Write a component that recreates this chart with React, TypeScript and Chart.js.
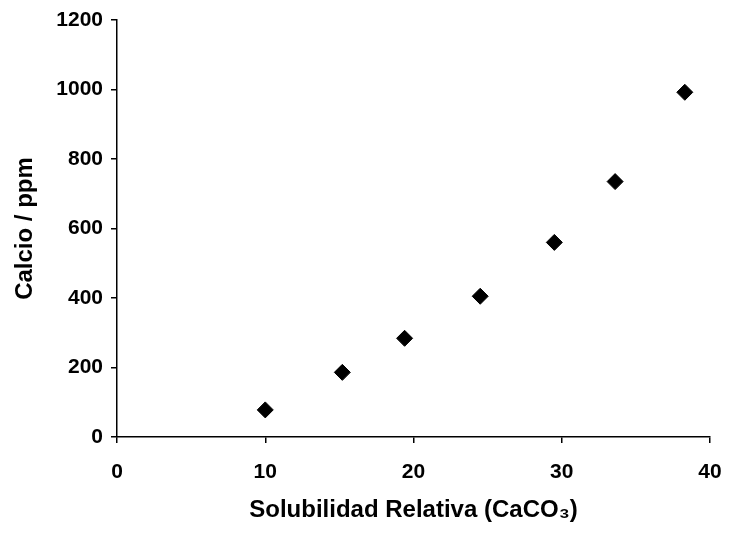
import React, { useEffect, useRef } from "react";
import { Chart, registerables } from "chart.js";

Chart.register(...registerables);

const solubility = [10, 15.2, 19.4, 24.5, 29.5, 33.6, 38.3];
const calcium = [78, 186, 284, 405, 560, 735, 992];
const xTitle = "Solubilidad Relativa (CaCO\u2083)";
const yTitle = "Calcio / ppm";

const W = 731;
const H = 536;

export default function App() {
  const ref = useRef<HTMLCanvasElement | null>(null);

  useEffect(() => {
    if (!ref.current) return;
    const family = "'Liberation Sans', Arial, sans-serif";
    const tickFont = { family, weight: "bold" as const, size: 21 };
    const titleFont = { family, weight: "bold" as const, size: 24 };
    const chart = new Chart(ref.current, {
      type: "scatter",
      data: {
        datasets: [
          {
            data: solubility.map((x, i) => ({ x, y: calcium[i] })),
            pointStyle: "rectRot",
            pointRadius: 8,
            pointBackgroundColor: "#000",
            pointBorderColor: "#000",
            pointBorderWidth: 1,
            showLine: false,
          },
        ],
      },
      options: {
        responsive: false,
        animation: false,
        layout: { padding: { top: 20, right: 21, bottom: 0, left: 0 } },
        plugins: { legend: { display: false }, tooltip: { enabled: false } },
        scales: {
          x: {
            type: "linear",
            min: 0,
            max: 40,
            ticks: { stepSize: 10, color: "#000", font: tickFont, padding: 17, maxRotation: 0, callback: (v: any) => String(v) },
            grid: { drawOnChartArea: false, drawTicks: true, tickLength: 6, color: "#000", lineWidth: 1.5 },
            border: { display: true, color: "#000", width: 1.5 },
            title: { display: true, text: xTitle, color: "#000", font: titleFont, padding: { top: 0, bottom: 11 } },
            afterFit: (scale: any) => {
              scale.height = H - 437;
              scale.paddingLeft = 0;
              scale.paddingRight = 0;
            },
          },
          y: {
            type: "linear",
            min: 0,
            max: 1200,
            ticks: { stepSize: 200, color: "#000", font: tickFont, padding: 8, callback: (v: any) => String(v) },
            grid: { drawOnChartArea: false, drawTicks: true, tickLength: 6, color: "#000", lineWidth: 1.5 },
            border: { display: true, color: "#000", width: 1.5 },
            title: { display: true, text: yTitle, color: "#000", font: titleFont, padding: { top: 11, bottom: 0 } },
            afterFit: (scale: any) => {
              scale.width = 117;
              scale.paddingTop = 0;
              scale.paddingBottom = 0;
            },
          },
        },
      },
    });
    return () => chart.destroy();
  }, []);

  return (
    <div style={{ position: "fixed", left: 0, top: 0, width: W, height: H, background: "#fff" }}>
      <canvas ref={ref} width={W} height={H} style={{ width: W, height: H, display: "block" }} />
    </div>
  );
}
